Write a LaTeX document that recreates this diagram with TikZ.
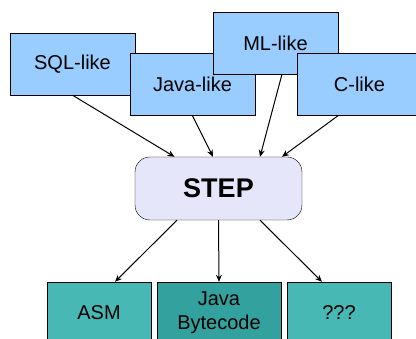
\documentclass[tikz,border=0pt]{standalone}
\usepackage{fontspec}
\setmainfont{Liberation Sans}
\usetikzlibrary{arrows.meta, shapes}
\definecolor{langblue}{HTML}{99CCFF}
\definecolor{steplav}{HTML}{E6E6FA}
\definecolor{tealbox}{HTML}{48B8B5}
\definecolor{tealdark}{HTML}{33A29F}
\begin{document}
\begin{tikzpicture}[x=1pt, y=-1pt,
	lang/.style={draw, fill=langblue, minimum width=125pt, minimum height=62pt,
		inner sep=0pt, font=\fontsize{20}{24}\selectfont},
	target/.style={draw, fill=tealbox, minimum width=104pt, minimum height=62pt,
		inner sep=0pt, align=center, font=\fontsize{20}{24}\selectfont},
	flow/.style={-{Stealth[length=7pt,width=6pt]}, line width=1pt},
	]
	\useasboundingbox (0,0) rectangle (416,339);
	\clip (0,0) rectangle (416,339);
	\node[lang] (sql) at (72.5,64) {SQL-like};
	\node[lang] (java) at (192.5,84.5) {Java-like};
	\node[lang] (ml) at (275.5,43) {ML-like};
	\node[lang] (c) at (359.5,84.5) {C-like};
	\node[
	draw, fill=steplav, rounded corners=15pt,
	minimum width=167pt, minimum height=63pt,
	font=\fontsize{27}{32}\selectfont\bfseries,
	] (step) at (218.5,188.5) {STEP};
	\node[target] (asm) at (99,313) {ASM};
	\node[target, fill=tealdark, minimum width=124pt] (jvm) at (219,313) {Java\\Bytecode};
	\node[target] (other) at (339,313) {???};
	\path[flow]
	(sql.south) edge ([xshift=-44pt]step.north)
	(java.south) edge ([xshift=-5.5pt]step.north)
	([xshift=6.5pt]ml.south) edge ([xshift=41.5pt]step.north)
	([xshift=-21.5pt]c.south) edge ([xshift=63.5pt]step.north)
	([xshift=-41.5pt]step.south) edge ([xshift=16pt]asm.north)
	(step.south) edge (jvm.north)
	([xshift=41.5pt]step.south) edge ([xshift=-17pt]other.north)
	;
\end{tikzpicture}
\end{document}
